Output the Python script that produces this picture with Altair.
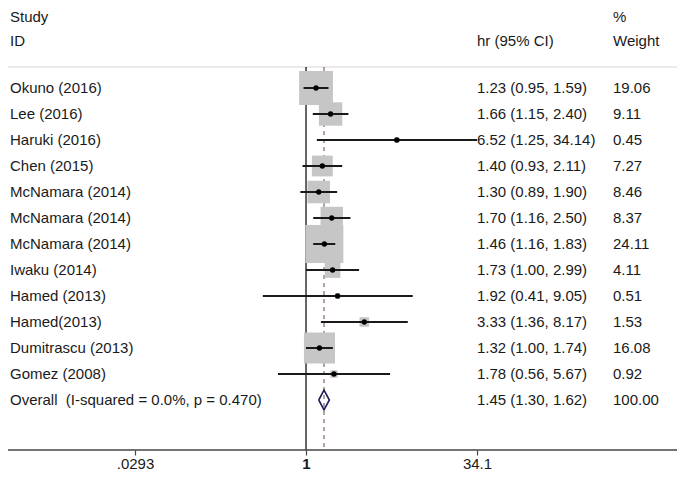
import altair as alt
import pandas as pd

studies = ["Okuno (2016)", "Lee (2016)", "Haruki (2016)", "Chen (2015)",
           "McNamara (2014)", "McNamara (2014)", "McNamara (2014)", "Iwaku (2014)",
           "Hamed (2013)", "Hamed(2013)", "Dumitrascu (2013)", "Gomez (2008)"]
hr = [1.23, 1.66, 6.52, 1.40, 1.30, 1.70, 1.46, 1.73, 1.92, 3.33, 1.32, 1.78]
ci_low = [0.95, 1.15, 1.25, 0.93, 0.89, 1.16, 1.16, 1.00, 0.41, 1.36, 1.00, 0.56]
ci_high = [1.59, 2.40, 34.14, 2.11, 1.90, 2.50, 1.83, 2.99, 9.05, 8.17, 1.74, 5.67]
weight = [19.06, 9.11, 0.45, 7.27, 8.46, 8.37, 24.11, 4.11, 0.51, 1.53, 16.08, 0.92]

overall_label = "Overall\u00a0 (I-squared = 0.0%, p = 0.470)"
overall_hr = 1.45
overall_low = 1.30
overall_high = 1.62
overall_weight = 100.00

tick_values = [0.0293, 1, 34.1]

FONT = "Liberation Sans"
FS = 15
TXT = "#1a1a1a"

n = len(studies)
df = pd.DataFrame({
    "row": list(range(n)),
    "study": studies,
    "hr": hr,
    "lo": ci_low,
    "hi": ci_high,
    "weight": weight,
})

lab = pd.DataFrame({
    "row": list(range(n + 1)),
    "study": studies + [overall_label],
    "ci_text": [f"{h:.2f} ({l:.2f}, {u:.2f})" for h, l, u in
                zip(hr + [overall_hr], ci_low + [overall_low], ci_high + [overall_high])],
    "w_text": [f"{w:.2f}" for w in weight + [overall_weight]],
})

dia_half = 0.38
dia = pd.DataFrame({
    "x": [overall_low, overall_hr, overall_high, overall_hr, overall_low],
    "row": [n, n - dia_half, n, n + dia_half, n],
    "ord": [0, 1, 2, 3, 4],
})

one = pd.DataFrame({"k": [0]})

W, H = 669, 442
TOP = 59
xscale = alt.Scale(type="log", domain=[tick_values[0], tick_values[-1]], range=[127, 469], nice=False)
yscale = alt.Scale(domain=[0, n], range=[80, 392], zero=False, nice=False)

Y = alt.Y("row:Q", scale=yscale, axis=None)

top_line = alt.Chart(one).mark_rule(color="#d6d6d6", strokeWidth=1).encode(
    x=alt.value(0), x2=alt.value(672), y=alt.value(TOP))

axis_line = alt.Chart(one).mark_rule(color="#444444", strokeWidth=1.5).encode(
    x=alt.value(0), x2=alt.value(W), y=alt.value(H))

null_line = alt.Chart(one).mark_rule(color="#333333", strokeWidth=1.5).encode(
    x=alt.datum(1), y=alt.value(TOP), y2=alt.value(H))

overall_line = alt.Chart(one).mark_rule(color="#6e4444", strokeWidth=1, strokeDash=[4, 4]).encode(
    x=alt.datum(overall_hr), y=alt.value(TOP), y2=alt.value(H))

boxes = alt.Chart(df).mark_point(shape="square", filled=True, color="#c6c6c6", opacity=1).encode(
    x=alt.X("hr:Q", scale=xscale, axis=alt.Axis(
        values=tick_values, domain=False, grid=False, tickSize=5, tickColor="#444444",
        tickWidth=1.2, labelFont=FONT, labelFontSize=FS, labelColor=TXT, labelPadding=1,
        labelFlush=False, labelOverlap=False,
        labelExpr="datum.value < 1 ? substring(toString(datum.value), 1) : toString(datum.value)",
        labelFontWeight={"condition": {"test": "datum.value == 1", "value": "bold"}, "value": "normal"},
        title=None)),
    y=Y,
    size=alt.Size("weight:Q", scale=alt.Scale(type="linear", domain=[0, 100], range=[0, 6000]), legend=None),
)

ci = alt.Chart(df).mark_rule(color="#1a1a1a", strokeWidth=2).encode(
    x=alt.X("lo:Q"), x2="hi:Q", y=Y)

dots = alt.Chart(df).mark_point(shape="circle", filled=True, color="#000000", size=28, opacity=1).encode(
    x="hr:Q", y=Y)

diamond = alt.Chart(dia).mark_line(color="#1c1c5c", strokeWidth=1.6).encode(
    x="x:Q", y=Y, order="ord:Q")

study_txt = alt.Chart(lab).mark_text(align="left", baseline="middle", font=FONT, fontSize=FS, color=TXT).encode(
    x=alt.value(2), y=Y, text="study:N")
ci_txt = alt.Chart(lab).mark_text(align="left", baseline="middle", font=FONT, fontSize=FS, color=TXT).encode(
    x=alt.value(469), y=Y, text="ci_text:N")
w_txt = alt.Chart(lab).mark_text(align="left", baseline="middle", font=FONT, fontSize=FS, color=TXT).encode(
    x=alt.value(605), y=Y, text="w_text:N")


def header(text, x, y):
    return alt.Chart(one).mark_text(align="left", baseline="middle", font=FONT, fontSize=FS,
                                    color=TXT, text=text).encode(x=alt.value(x), y=alt.value(y))


headers = [
    header("Study", 2, 9),
    header("ID", 2, 33),
    header("hr (95% CI)", 469, 33),
    header("%", 605, 9),
    header("Weight", 605, 33),
]

chart = alt.layer(
    top_line, axis_line, null_line, overall_line, boxes, ci, dots, diamond,
    study_txt, ci_txt, w_txt, *headers
).properties(
    width=W, height=H,
    padding={"left": 0, "top": 0, "right": 0, "bottom": 24},
    autosize=alt.AutoSizeParams(type="none"),
    background="white",
).configure_view(stroke=None)

chart.save("out.html", embed_options={"renderer": "svg", "actions": False})
